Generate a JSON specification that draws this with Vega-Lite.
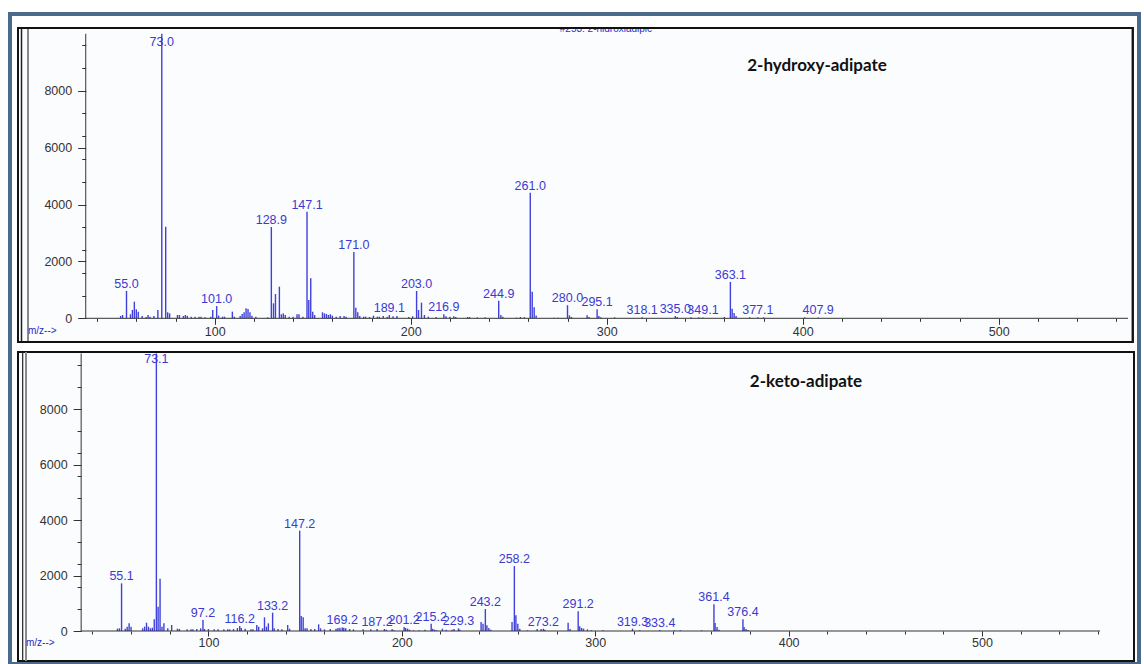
{
  "$schema": "https://vega.github.io/schema/vega-lite/v6.json",
  "width": 1144,
  "height": 664,
  "autosize": {"type": "fit", "contains": "padding"},
  "padding": {"left": 10, "top": 14, "right": 5, "bottom": 0},
  "background": "white",
  "config": {
    "view": {"stroke": "#4a6a8c", "strokeWidth": 4, "fill": "white"},
    "axis": {"labelFont": "Liberation Sans", "labelFontSize": 12.5, "labelColor": "#333333", "tickColor": "#333333", "domain": false, "grid": false, "zindex": 1, "labelOverlap": false}
  },
  "datasets": {
    "top": [
      {"mz": 52, "i": 82}, {"mz": 53, "i": 117}, {"mz": 55.0, "i": 960, "label": "55.0"}, {"mz": 57, "i": 140}, {"mz": 58, "i": 293}, {"mz": 59, "i": 585}, {"mz": 60, "i": 316}, {"mz": 61, "i": 234}, {"mz": 63, "i": 82}, {"mz": 65, "i": 47}, {"mz": 66, "i": 117}, {"mz": 67, "i": 58}, {"mz": 69, "i": 82}, {"mz": 71, "i": 293},
      {"mz": 73.0, "i": 10000, "label": "73.0"}, {"mz": 75, "i": 3220}, {"mz": 76, "i": 211}, {"mz": 77, "i": 175}, {"mz": 81, "i": 117}, {"mz": 82, "i": 117}, {"mz": 84, "i": 82}, {"mz": 85, "i": 117}, {"mz": 86, "i": 94}, {"mz": 88, "i": 58}, {"mz": 90, "i": 58}, {"mz": 92, "i": 58}, {"mz": 93, "i": 58}, {"mz": 95, "i": 35}, {"mz": 98, "i": 58}, {"mz": 99, "i": 293},
      {"mz": 101.0, "i": 430, "label": "101.0"}, {"mz": 102, "i": 94}, {"mz": 104, "i": 58}, {"mz": 105, "i": 58}, {"mz": 109, "i": 234}, {"mz": 110, "i": 58}, {"mz": 113, "i": 82}, {"mz": 114, "i": 152}, {"mz": 115, "i": 211}, {"mz": 116, "i": 351}, {"mz": 117, "i": 328}, {"mz": 118, "i": 211}, {"mz": 119, "i": 94}, {"mz": 121, "i": 58}, {"mz": 127, "i": 35},
      {"mz": 128.9, "i": 3210, "label": "128.9"}, {"mz": 130, "i": 527}, {"mz": 131, "i": 854}, {"mz": 133, "i": 1112}, {"mz": 134, "i": 140}, {"mz": 135, "i": 175}, {"mz": 136, "i": 117}, {"mz": 138, "i": 58}, {"mz": 140, "i": 58}, {"mz": 142, "i": 140}, {"mz": 143, "i": 140}, {"mz": 145, "i": 58},
      {"mz": 147.1, "i": 3747, "label": "147.1"}, {"mz": 148, "i": 644}, {"mz": 149, "i": 1404}, {"mz": 150, "i": 234}, {"mz": 151, "i": 117}, {"mz": 155, "i": 211}, {"mz": 156, "i": 175}, {"mz": 157, "i": 152}, {"mz": 158, "i": 117}, {"mz": 159, "i": 140}, {"mz": 160, "i": 94}, {"mz": 162, "i": 58}, {"mz": 164, "i": 82}, {"mz": 166, "i": 82}, {"mz": 167, "i": 58},
      {"mz": 171.0, "i": 2330, "label": "171.0"}, {"mz": 172, "i": 374}, {"mz": 173, "i": 211}, {"mz": 174, "i": 82}, {"mz": 176, "i": 58}, {"mz": 177, "i": 58}, {"mz": 179, "i": 47}, {"mz": 181, "i": 94}, {"mz": 183, "i": 58}, {"mz": 184, "i": 58}, {"mz": 186, "i": 82}, {"mz": 188, "i": 58},
      {"mz": 189.1, "i": 117, "label": "189.1"}, {"mz": 191, "i": 70}, {"mz": 193, "i": 82}, {"mz": 199, "i": 47}, {"mz": 201, "i": 70},
      {"mz": 203.0, "i": 960, "label": "203.0"}, {"mz": 204, "i": 293}, {"mz": 205.5, "i": 550}, {"mz": 207, "i": 117}, {"mz": 209, "i": 58}, {"mz": 213, "i": 47},
      {"mz": 216.9, "i": 140, "label": "216.9"}, {"mz": 218, "i": 70}, {"mz": 220, "i": 58}, {"mz": 222, "i": 70}, {"mz": 223, "i": 47}, {"mz": 229, "i": 47}, {"mz": 230, "i": 47}, {"mz": 234, "i": 35}, {"mz": 238, "i": 35},
      {"mz": 244.9, "i": 620, "label": "244.9"}, {"mz": 246, "i": 117}, {"mz": 247, "i": 58}, {"mz": 254, "i": 23}, {"mz": 256, "i": 47}, {"mz": 258, "i": 40},
      {"mz": 261.0, "i": 4415, "label": "261.0"}, {"mz": 262, "i": 935}, {"mz": 263, "i": 387}, {"mz": 264, "i": 100}, {"mz": 273, "i": 23}, {"mz": 275, "i": 23},
      {"mz": 280.0, "i": 460, "label": "280.0"}, {"mz": 281, "i": 105}, {"mz": 282, "i": 47}, {"mz": 290, "i": 105}, {"mz": 291, "i": 47},
      {"mz": 295.1, "i": 320, "label": "295.1"}, {"mz": 296, "i": 82}, {"mz": 297, "i": 35}, {"mz": 304, "i": 35},
      {"mz": 318.1, "i": 35, "label": "318.1"}, {"mz": 335.0, "i": 82, "label": "335.0"}, {"mz": 336, "i": 47}, {"mz": 343, "i": 35}, {"mz": 347, "i": 35},
      {"mz": 349.1, "i": 30, "label": "349.1"}, {"mz": 360, "i": 47}, {"mz": 363.1, "i": 1280, "label": "363.1"}, {"mz": 364, "i": 340}, {"mz": 365, "i": 187}, {"mz": 366, "i": 82}, {"mz": 373, "i": 35},
      {"mz": 377.1, "i": 35, "label": "377.1"}, {"mz": 380, "i": 35}, {"mz": 401, "i": 35}, {"mz": 407.9, "i": 30, "label": "407.9"}
    ],
    "bot": [
      {"mz": 53, "i": 84}, {"mz": 54, "i": 96}, {"mz": 55.1, "i": 1717, "label": "55.1"}, {"mz": 57, "i": 84}, {"mz": 58, "i": 156}, {"mz": 59, "i": 276}, {"mz": 60, "i": 156}, {"mz": 66, "i": 96}, {"mz": 67, "i": 156}, {"mz": 68, "i": 300}, {"mz": 69, "i": 156}, {"mz": 70, "i": 96}, {"mz": 71, "i": 120}, {"mz": 72, "i": 420},
      {"mz": 73.1, "i": 10000, "label": "73.1"}, {"mz": 74, "i": 877}, {"mz": 75, "i": 1885}, {"mz": 76, "i": 156}, {"mz": 77, "i": 276}, {"mz": 79, "i": 96}, {"mz": 81, "i": 216}, {"mz": 84, "i": 84}, {"mz": 85, "i": 72}, {"mz": 89, "i": 60}, {"mz": 91, "i": 60}, {"mz": 92, "i": 60}, {"mz": 94, "i": 72}, {"mz": 96, "i": 96},
      {"mz": 97.2, "i": 396, "label": "97.2"}, {"mz": 98, "i": 72}, {"mz": 100, "i": 72}, {"mz": 103, "i": 60}, {"mz": 105, "i": 60}, {"mz": 108, "i": 60}, {"mz": 110, "i": 60}, {"mz": 111, "i": 60}, {"mz": 113, "i": 72}, {"mz": 115, "i": 108},
      {"mz": 116.2, "i": 180, "label": "116.2"}, {"mz": 117, "i": 108}, {"mz": 119, "i": 84}, {"mz": 122, "i": 60}, {"mz": 123, "i": 60}, {"mz": 125, "i": 216}, {"mz": 126, "i": 156}, {"mz": 128, "i": 96}, {"mz": 129, "i": 492}, {"mz": 130, "i": 156}, {"mz": 131, "i": 276},
      {"mz": 133.2, "i": 660, "label": "133.2"}, {"mz": 134, "i": 96}, {"mz": 136, "i": 72}, {"mz": 138, "i": 60}, {"mz": 141, "i": 216}, {"mz": 142, "i": 84},
      {"mz": 147.2, "i": 3615, "label": "147.2"}, {"mz": 148, "i": 540}, {"mz": 149, "i": 492}, {"mz": 150, "i": 96}, {"mz": 151, "i": 96}, {"mz": 153, "i": 72}, {"mz": 155, "i": 72}, {"mz": 157, "i": 240}, {"mz": 158, "i": 96}, {"mz": 160, "i": 60}, {"mz": 163, "i": 72}, {"mz": 166, "i": 84}, {"mz": 167, "i": 108}, {"mz": 168, "i": 120},
      {"mz": 169.2, "i": 130, "label": "169.2"}, {"mz": 170, "i": 120}, {"mz": 171, "i": 96}, {"mz": 173, "i": 72}, {"mz": 175, "i": 60}, {"mz": 180, "i": 60}, {"mz": 184, "i": 60},
      {"mz": 187.2, "i": 72, "label": "187.2"}, {"mz": 191, "i": 72}, {"mz": 192, "i": 48}, {"mz": 195, "i": 72}, {"mz": 196, "i": 24},
      {"mz": 201.2, "i": 140, "label": "201.2"}, {"mz": 202, "i": 108}, {"mz": 203, "i": 84}, {"mz": 204, "i": 48}, {"mz": 206, "i": 24}, {"mz": 209, "i": 24}, {"mz": 212, "i": 48},
      {"mz": 215.2, "i": 264, "label": "215.2"}, {"mz": 216, "i": 84}, {"mz": 217, "i": 48}, {"mz": 218, "i": 24}, {"mz": 221, "i": 84}, {"mz": 223, "i": 48}, {"mz": 226, "i": 48}, {"mz": 227, "i": 72},
      {"mz": 229.3, "i": 96, "label": "229.3"}, {"mz": 230, "i": 48}, {"mz": 241, "i": 324}, {"mz": 242, "i": 264},
      {"mz": 243.2, "i": 792, "label": "243.2"}, {"mz": 244, "i": 204}, {"mz": 245, "i": 108}, {"mz": 246, "i": 48}, {"mz": 257, "i": 324},
      {"mz": 258.2, "i": 2340, "label": "258.2"}, {"mz": 259, "i": 564}, {"mz": 260, "i": 264}, {"mz": 261, "i": 84}, {"mz": 265, "i": 24}, {"mz": 270, "i": 72}, {"mz": 272, "i": 72},
      {"mz": 273.2, "i": 84, "label": "273.2"}, {"mz": 274, "i": 48}, {"mz": 286, "i": 300}, {"mz": 287, "i": 72},
      {"mz": 291.2, "i": 708, "label": "291.2"}, {"mz": 292, "i": 168}, {"mz": 293, "i": 108}, {"mz": 294, "i": 84}, {"mz": 296, "i": 60}, {"mz": 298, "i": 24}, {"mz": 304, "i": 24},
      {"mz": 319.3, "i": 84, "label": "319.3"}, {"mz": 323, "i": 24}, {"mz": 333.4, "i": 36, "label": "333.4"}, {"mz": 341, "i": 24}, {"mz": 344, "i": 24}, {"mz": 355, "i": 24},
      {"mz": 361.4, "i": 960, "label": "361.4"}, {"mz": 362, "i": 288}, {"mz": 363, "i": 144}, {"mz": 364, "i": 48},
      {"mz": 376.4, "i": 420, "label": "376.4"}, {"mz": 377, "i": 144}, {"mz": 378, "i": 72}, {"mz": 379, "i": 36}
    ]
  },
  "resolve": {"scale": {"x": "independent", "y": "independent"}, "axis": {"x": "independent", "y": "independent"}},
  "layer": [
    {
      "layer": [
        {
          "data": {"values": [{}]},
          "mark": {"type": "rect", "fill": "#fbfcfe", "stroke": "#111111", "strokeWidth": 2},
          "encoding": {
            "x": {"datum": -0.36, "type": "quantitative", "scale": {"domain": [-4.44, 571.58], "nice": false, "zero": false}},
            "x2": {"datum": 568.4},
            "y": {"datum": -833, "type": "quantitative", "scale": {"domain": [-12151, 10696], "nice": false, "zero": false}},
            "y2": {"datum": 10204}
          }
        },
        {
          "data": {"values": [{}]},
          "mark": {"type": "rule", "color": "#222222", "strokeWidth": 1.5},
          "encoding": {
            "x": {"datum": 1.43, "type": "quantitative"},
            "y": {"datum": -833, "type": "quantitative"},
            "y2": {"datum": 10204}
          }
        },
        {
          "data": {"values": [{}]},
          "mark": {"type": "rule", "color": "#8a8a8a", "strokeWidth": 2},
          "encoding": {
            "x": {"datum": 4.74, "type": "quantitative"},
            "y": {"datum": -833, "type": "quantitative"},
            "y2": {"datum": 10204}
          }
        },
        {
          "data": {"name": "top"},
          "mark": {"type": "rule", "color": "#4040dc", "strokeWidth": 1.4},
          "encoding": {
            "x": {"field": "mz", "type": "quantitative", "scale": {"domain": [-4.44, 571.58], "nice": false, "zero": false},
              "axis": {"title": null, "orient": "bottom", "offset": -345.7, "values": [100, 200, 300, 400, 500], "format": "d", "tickSize": 6, "labelPadding": 1, "labelFlush": false, "labelOverlap": false, "zindex": 1}},
            "y": {"field": "i", "type": "quantitative", "scale": {"domain": [-12151, 10696], "nice": false, "zero": false},
              "axis": {"title": null, "orient": "left", "offset": -75.7, "values": [0, 2000, 4000, 6000, 8000], "format": "d", "tickSize": 8, "labelPadding": 6, "labelOverlap": false, "labelFlush": false, "zindex": 1}},
            "y2": {"datum": 0}
          }
        },
        {
          "data": {"name": "top"},
          "transform": [{"filter": "datum.label != null && datum.i < 9000"}],
          "mark": {"type": "text", "color": "#3a3ad2", "font": "Liberation Sans", "fontSize": 12.5, "baseline": "alphabetic", "align": "center", "dy": -3},
          "encoding": {
            "x": {"field": "mz", "type": "quantitative"},
            "y": {"field": "i", "type": "quantitative"},
            "text": {"field": "label"}
          }
        },
        {
          "data": {"name": "top"},
          "transform": [{"filter": "datum.label != null && datum.i >= 9000"}],
          "mark": {"type": "text", "color": "#3a3ad2", "font": "Liberation Sans", "fontSize": 12.5, "baseline": "middle", "align": "center"},
          "encoding": {
            "x": {"field": "mz", "type": "quantitative"},
            "y": {"datum": 9712, "type": "quantitative"},
            "text": {"field": "label"}
          }
        },
        {
          "data": {"values": [{}]},
          "mark": {"type": "text", "font": "Lato", "fontWeight": "bold", "fontSize": 17, "color": "#111111", "align": "center", "baseline": "middle", "text": "2-hydroxy-adipate"},
          "encoding": {
            "x": {"datum": 407.3, "type": "quantitative"},
            "y": {"datum": 8868, "type": "quantitative"}
          }
        },
        {
          "data": {"values": [{}]},
          "mark": {"type": "text", "font": "Liberation Sans", "fontSize": 10, "color": "#2a2ac8", "align": "left", "baseline": "middle", "text": "m/z-->"},
          "encoding": {
            "x": {"datum": 4.74, "type": "quantitative"},
            "y": {"datum": -446, "type": "quantitative"}
          }
        },
        {
          "data": {"values": [{}]},
          "mark": {"type": "text", "font": "Liberation Sans", "fontSize": 10, "color": "#2a2ae0", "align": "center", "baseline": "middle", "text": "#253: 2-hidroxiadipic"},
          "encoding": {
            "x": {"datum": 299.6, "type": "quantitative"},
            "y": {"datum": 10169, "type": "quantitative"}
          }
        },
        {
          "data": {"values": [{}]},
          "mark": {"type": "text", "font": "Liberation Sans", "fontSize": 11, "color": "#3a4a8a", "align": "left", "baseline": "middle", "text": "Abundance"},
          "encoding": {
            "x": {"datum": 7.8, "type": "quantitative"},
            "y": {"datum": 10274, "type": "quantitative"}
          }
        },
        {
          "data": {"values": [{}]},
          "mark": {"type": "rect", "fill": "white", "strokeWidth": 0},
          "encoding": {
            "x": {"datum": -0.36, "type": "quantitative"},
            "x2": {"datum": 568.4},
            "y": {"datum": 10218, "type": "quantitative"},
            "y2": {"datum": 10626}
          }
        },
        {
          "data": {"values": [{}]},
          "mark": {"type": "rect", "fill": null, "stroke": "#111111", "strokeWidth": 2},
          "encoding": {
            "x": {"datum": -0.36, "type": "quantitative"},
            "x2": {"datum": 568.4},
            "y": {"datum": -833, "type": "quantitative"},
            "y2": {"datum": 10204}
          }
        }
      ]
    },
    {
      "data": {"values": [{}]},
      "layer": [
        {
          "mark": {"type": "rule", "color": "#333333", "strokeWidth": 1},
          "encoding": {
            "x": {"datum": 34.2, "type": "quantitative", "scale": {"domain": [-4.44, 571.58], "nice": false, "zero": false},
              "axis": {"title": null, "orient": "bottom", "offset": -345.7, "values": [40, 60, 80, 100, 120, 140, 160, 180, 200, 220, 240, 260, 280, 300, 320, 340, 360, 380, 400, 420, 440, 460, 480, 500, 520, 540, 560], "labels": false, "tickSize": 3, "zindex": 1}},
            "y": {"datum": 0, "type": "quantitative", "scale": {"domain": [-12151, 10696], "nice": false, "zero": false},
              "axis": {"title": null, "orient": "left", "offset": -75.7, "values": [0, 400, 800, 1200, 1600, 2000, 2400, 2800, 3200, 3600, 4000, 4400, 4800, 5200, 5600, 6000, 6400, 6800, 7200, 7600, 8000, 8400, 8800, 9200, 9600, 10000], "labels": false, "tickSize": 4, "zindex": 1}},
            "y2": {"datum": 10000}
          }
        },
        {
          "mark": {"type": "rule", "color": "#333333", "strokeWidth": 1},
          "encoding": {
            "x": {"datum": 34.2, "type": "quantitative"},
            "x2": {"datum": 566},
            "y": {"datum": 0, "type": "quantitative"}
          }
        }
      ]
    },
    {
      "layer": [
        {
          "data": {"values": [{}]},
          "mark": {"type": "rect", "fill": "#fbfcfe", "stroke": "#111111", "strokeWidth": 2},
          "encoding": {
            "x": {"datum": 1.55, "type": "quantitative", "scale": {"domain": [-2.585, 581.18], "nice": false, "zero": false}},
            "x2": {"datum": 578.6},
            "y": {"datum": -1081, "type": "quantitative", "scale": {"domain": [-1189, 22234], "nice": false, "zero": false}},
            "y2": {"datum": 10054}
          }
        },
        {
          "data": {"values": [{}]},
          "mark": {"type": "rule", "color": "#222222", "strokeWidth": 1.2},
          "encoding": {
            "x": {"datum": 3.98, "type": "quantitative"},
            "y": {"datum": -1081, "type": "quantitative"},
            "y2": {"datum": 10054}
          }
        },
        {
          "data": {"values": [{}]},
          "mark": {"type": "rule", "color": "#8a8a8a", "strokeWidth": 2},
          "encoding": {
            "x": {"datum": 5.69, "type": "quantitative"},
            "y": {"datum": -1081, "type": "quantitative"},
            "y2": {"datum": 10054}
          }
        },
        {
          "data": {"name": "bot"},
          "mark": {"type": "rule", "color": "#4040dc", "strokeWidth": 1.4},
          "encoding": {
            "x": {"field": "mz", "type": "quantitative", "scale": {"domain": [-2.585, 581.18], "nice": false, "zero": false},
              "axis": {"title": null, "orient": "bottom", "offset": -33, "values": [100, 200, 300, 400, 500], "format": "d", "tickSize": 5, "labelPadding": 0.5, "labelFlush": false, "labelOverlap": false, "zindex": 1}},
            "y": {"field": "i", "type": "quantitative", "scale": {"domain": [-1189, 22234], "nice": false, "zero": false},
              "axis": {"title": null, "orient": "left", "offset": -71.1, "values": [0, 2000, 4000, 6000, 8000], "format": "d", "tickSize": 8, "labelPadding": 6, "labelOverlap": false, "labelFlush": false, "zindex": 1}},
            "y2": {"datum": 0}
          }
        },
        {
          "data": {"name": "bot"},
          "transform": [{"filter": "datum.label != null && datum.i < 9000"}],
          "mark": {"type": "text", "color": "#3a3ad2", "font": "Liberation Sans", "fontSize": 12.5, "baseline": "alphabetic", "align": "center", "dy": -3},
          "encoding": {
            "x": {"field": "mz", "type": "quantitative"},
            "y": {"field": "i", "type": "quantitative"},
            "text": {"field": "label"}
          }
        },
        {
          "data": {"name": "bot"},
          "transform": [{"filter": "datum.label != null && datum.i >= 9000"}],
          "mark": {"type": "text", "color": "#3a3ad2", "font": "Liberation Sans", "fontSize": 12.5, "baseline": "middle", "align": "center"},
          "encoding": {
            "x": {"field": "mz", "type": "quantitative"},
            "y": {"datum": 9802, "type": "quantitative"},
            "text": {"field": "label"}
          }
        },
        {
          "data": {"values": [{}]},
          "mark": {"type": "text", "font": "Lato", "fontWeight": "bold", "fontSize": 17, "color": "#111111", "align": "center", "baseline": "middle", "text": "2-keto-adipate"},
          "encoding": {
            "x": {"datum": 409, "type": "quantitative"},
            "y": {"datum": 8973, "type": "quantitative"}
          }
        },
        {
          "data": {"values": [{}]},
          "mark": {"type": "text", "font": "Liberation Sans", "fontSize": 10, "color": "#2a2ac8", "align": "left", "baseline": "middle", "text": "m/z-->"},
          "encoding": {
            "x": {"datum": 5.69, "type": "quantitative"},
            "y": {"datum": -443, "type": "quantitative"}
          }
        }
      ]
    },
    {
      "data": {"values": [{}]},
      "layer": [
        {
          "mark": {"type": "rule", "color": "#333333", "strokeWidth": 1},
          "encoding": {
            "x": {"datum": 34.2, "type": "quantitative", "scale": {"domain": [-2.585, 581.18], "nice": false, "zero": false},
              "axis": {"title": null, "orient": "bottom", "offset": -33, "values": [40, 60, 80, 100, 120, 140, 160, 180, 200, 220, 240, 260, 280, 300, 320, 340, 360, 380, 400, 420, 440, 460, 480, 500, 520, 540, 560], "labels": false, "tickSize": 3, "zindex": 1}},
            "y": {"datum": 0, "type": "quantitative", "scale": {"domain": [-1189, 22234], "nice": false, "zero": false},
              "axis": {"title": null, "orient": "left", "offset": -71.1, "values": [0, 400, 800, 1200, 1600, 2000, 2400, 2800, 3200, 3600, 4000, 4400, 4800, 5200, 5600, 6000, 6400, 6800, 7200, 7600, 8000, 8400, 8800, 9200, 9600, 10000], "labels": false, "tickSize": 4, "zindex": 1}},
            "y2": {"datum": 10000}
          }
        },
        {
          "mark": {"type": "rule", "color": "#333333", "strokeWidth": 1},
          "encoding": {
            "x": {"datum": 34.2, "type": "quantitative"},
            "x2": {"datum": 561},
            "y": {"datum": 0, "type": "quantitative"}
          }
        }
      ]
    }
  ]
}
